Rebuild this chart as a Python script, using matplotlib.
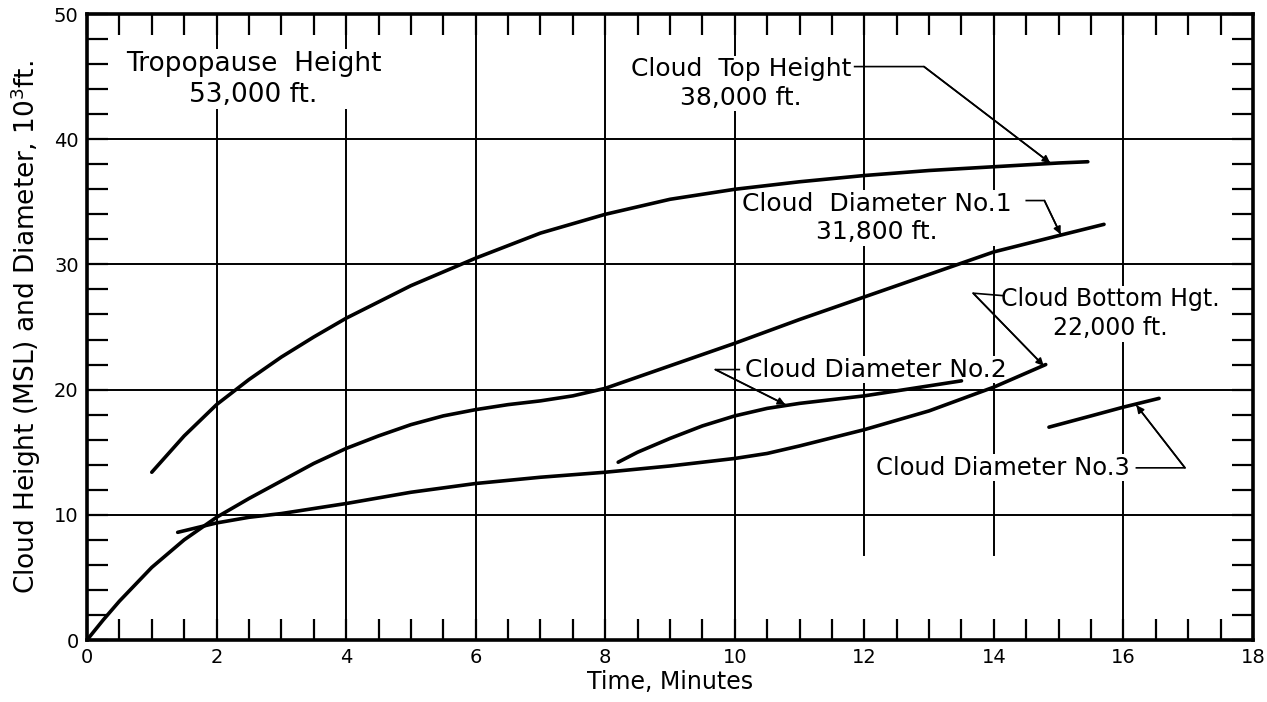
import numpy as np
import matplotlib
matplotlib.use("Agg")
import matplotlib.pyplot as plt

# ---------------- data ----------------
top_x = [1.0, 1.5, 2.0, 2.5, 3.0, 3.5, 4.0, 5.0, 6.0, 7.0, 8.0, 9.0, 10.0, 11.0, 12.0, 13.0, 14.0, 15.0, 15.45]
top_y = [13.4, 16.3, 18.8, 20.8, 22.6, 24.2, 25.7, 28.3, 30.5, 32.5, 34.0, 35.2, 36.0, 36.6, 37.1, 37.5, 37.8, 38.1, 38.2]

diam1_x = [0.0, 0.25, 0.5, 1.0, 1.5, 2.0, 2.5, 3.0, 3.5, 4.0, 4.5, 5.0, 5.5, 6.0, 6.5, 7.0, 7.5, 8.0,
           9.0, 10.0, 11.0, 12.0, 13.0, 14.0, 15.0, 15.7]
diam1_y = [0.0, 1.6, 3.1, 5.8, 8.0, 9.8, 11.3, 12.7, 14.1, 15.3, 16.3, 17.2, 17.9, 18.4, 18.8, 19.1, 19.5, 20.1,
           21.9, 23.7, 25.6, 27.4, 29.2, 31.0, 32.3, 33.2]

bottom_x = [1.4, 2.0, 2.5, 3.0, 3.5, 4.0, 5.0, 6.0, 7.0, 8.0, 9.0, 10.0, 10.5, 11.0, 12.0, 13.0, 14.0, 14.8]
bottom_y = [8.6, 9.35, 9.8, 10.1, 10.5, 10.9, 11.8, 12.5, 13.0, 13.4, 13.9, 14.5, 14.9, 15.5, 16.8, 18.3, 20.2, 22.0]

diam2_x = [8.2, 8.5, 9.0, 9.5, 10.0, 10.5, 11.0, 11.5, 12.0, 12.5, 13.0, 13.5]
diam2_y = [14.2, 15.0, 16.1, 17.1, 17.9, 18.5, 18.9, 19.2, 19.5, 19.9, 20.3, 20.7]

diam3_x = [14.85, 15.5, 16.0, 16.55]
diam3_y = [17.0, 17.9, 18.6, 19.3]

x_ticks = list(range(0, 19, 2))
y_ticks = list(range(0, 51, 10))

x_label = "Time, Minutes"
y_label = r"Cloud Height (MSL) and Diameter, 10$^{3}$ft."

# annotation texts, text positions and leader paths (data coords)
ann_texts = ["Tropopause  Height\n53,000 ft.",
             "Cloud  Top Height\n38,000 ft.",
             "Cloud  Diameter No.1\n31,800 ft.",
             "Cloud Bottom Hgt.\n22,000 ft.",
             "Cloud Diameter No.2",
             "Cloud Diameter No.3"]
ann_pos = [(2.57, 44.8), (10.1, 44.45), (12.2, 33.7), (15.8, 26.05), (12.18, 21.6), (14.14, 13.75)]
ann_size = [19, 18, 18, 17, 18, 17.5]
ann_leaders = [None,
               ([11.85, 12.92, 14.87], [45.8, 45.8, 38.1]),
               ([14.5, 14.78, 15.03], [35.1, 35.1, 32.4]),
               ([14.15, 13.68, 14.77], [27.5, 27.7, 21.9]),
               ([10.07, 9.7, 10.78], [21.6, 21.6, 18.8]),
               ([16.2, 16.95, 16.2], [13.75, 13.75, 18.75])]

# ---------------- figure ----------------
plt.rcParams['font.family'] = ['DejaVu Sans']
W, H = 1267, 702
fig = plt.figure(figsize=(W / 100, H / 100), dpi=100)
ax = fig.add_axes([87 / W, 1 - 640 / H, (1253 - 87) / W, (640 - 14) / H])

ax.set_xlim(0, 18)
ax.set_ylim(0, 50)

# grid
xgrid_from = {12: 6.8, 14: 6.8}
for gx in x_ticks[1:-1]:
    ax.axvline(gx, ymin=xgrid_from.get(gx, 0) / 50, ymax=1, color='black', lw=1.4, zorder=1)
for gy in y_ticks[1:-1]:
    ax.axhline(gy, color='black', lw=1.4, zorder=1)

lw = 2.6
for xs, ys in [(top_x, top_y), (diam1_x, diam1_y), (bottom_x, bottom_y), (diam2_x, diam2_y), (diam3_x, diam3_y)]:
    ax.plot(xs, ys, color='black', lw=lw, solid_capstyle='round', zorder=4)

# ticks
ax.set_xticks(x_ticks)
ax.set_yticks(y_ticks)
ax.set_xticks(np.arange(0, 18.01, 0.5), minor=True)
ax.set_yticks(np.arange(0, 50.01, 2), minor=True)
ax.tick_params(which='both', direction='in', top=True, right=True, color='black')
ax.tick_params(which='minor', length=15, width=1.6)
ax.tick_params(which='major', length=15, width=1.6, labelsize=14, pad=6)
for s in ax.spines.values():
    s.set_linewidth(2.6)

ax.set_xlabel(x_label, fontsize=17, labelpad=2)
ax.set_ylabel(y_label, fontsize=19, labelpad=8)

# annotations
for txt, (tx, ty), fs, leader in zip(ann_texts, ann_pos, ann_size, ann_leaders):
    ax.text(tx, ty, txt, ha='center', va='center', fontsize=fs, linespacing=1.25,
            zorder=2, bbox=dict(facecolor='white', edgecolor='none', pad=1.0))
    if leader is not None:
        lx, ly = leader
        ax.plot(lx, ly, color='black', lw=1.2, zorder=5)
        ax.annotate('', xy=(lx[-1], ly[-1]), xytext=(lx[-2], ly[-2]),
                    arrowprops=dict(arrowstyle='-|>', color='black', lw=1.2,
                                    mutation_scale=11, shrinkA=0, shrinkB=0),
                    zorder=5)

fig.savefig('out.png', dpi=100)
